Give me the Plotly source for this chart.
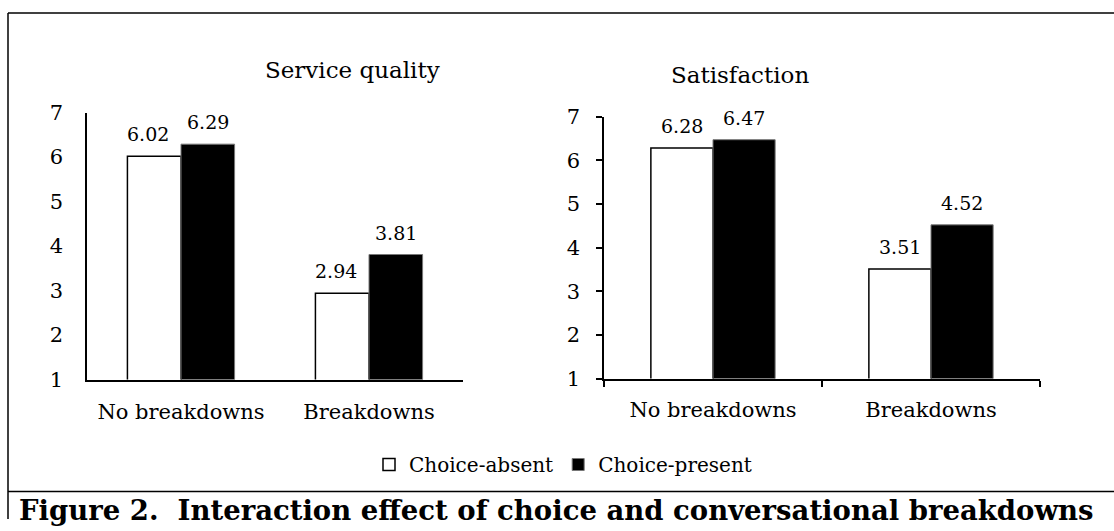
import plotly.graph_objects as go

W, H = 1114, 531
categories = ["No breakdowns", "Breakdowns"]
series_names = ["Choice-absent", "Choice-present"]
sq_absent = [6.02, 2.94]
sq_present = [6.29, 3.81]
sat_absent = [6.28, 3.51]
sat_present = [6.47, 4.52]
panel_titles = ["Service quality", "Satisfaction"]
y_ticks = [1, 2, 3, 4, 5, 6, 7]
caption = "<b>Figure 2.  Interaction effect of choice and conversational breakdowns</b>"

FONT = "DejaVu Serif"
BARGAP = 0.43


def fx(px):
    return px / W


def Y(px):
    # vertical placement helper (pixels from top -> paper fraction)
    return 1 - ((px - 10.4) / 0.955) / H


fig = go.Figure()

LEFT_X = (87, 463)
RIGHT_X = (604, 1040)


def add_panel(vals_a, vals_p, xa, ya, show, xpx, nudge_a):
    fig.add_trace(go.Bar(
        x=categories, y=vals_a, name=series_names[0], xaxis=xa, yaxis=ya,
        marker=dict(color="white", line=dict(color="black", width=1.5)),
        showlegend=show, legendgroup="a", hoverinfo="skip",
    ))
    fig.add_trace(go.Bar(
        x=categories, y=vals_p, name=series_names[1], xaxis=xa, yaxis=ya,
        marker=dict(color="black", line=dict(color="#777", width=1)),
        showlegend=show, legendgroup="p", hoverinfo="skip",
    ))
    # value labels above each bar
    cat_w = (xpx[1] - xpx[0]) / len(categories)
    bw = cat_w * (1 - BARGAP) / 2
    for vals, sgn, nud in ((vals_a, -1, nudge_a), (vals_p, 1, 0)):
        for c, v in zip(categories, vals):
            fig.add_annotation(
                x=c, y=v, xref=xa, yref=ya, text=f"{v:.2f}", showarrow=False,
                xshift=sgn * bw / 2 + nud, yanchor="bottom", yshift=9,
                font=dict(family=FONT, size=19, color="black"),
            )


add_panel(sq_absent, sq_present, "x", "y", True, LEFT_X, -6)
add_panel(sat_absent, sat_present, "x2", "y2", False, RIGHT_X, 0)

axfont = dict(family=FONT, size=21, color="black")
fig.update_layout(
    width=W, height=H,
    margin=dict(l=0, r=0, t=0, b=0),
    paper_bgcolor="white", plot_bgcolor="white",
    barmode="group", bargap=BARGAP, bargroupgap=0,
    font=dict(family=FONT, size=20, color="black"),
    xaxis=dict(domain=[fx(LEFT_X[0]), fx(LEFT_X[1])], anchor="y", showline=True, linecolor="black",
               linewidth=2, ticks="", showgrid=False, tickfont=axfont, range=[-0.5, 1.5],
               ticklabelstandoff=12),
    yaxis=dict(domain=[Y(378), Y(111)], anchor="x", range=[1, 7], tickvals=y_ticks,
               showline=True, linecolor="black", linewidth=1.5, ticks="", showgrid=False,
               zeroline=False, tickfont=axfont, ticklabelstandoff=18),
    xaxis2=dict(domain=[fx(RIGHT_X[0]), fx(RIGHT_X[1])], anchor="y2", showline=True, linecolor="black",
                linewidth=2, ticks="outside", tickson="boundaries", ticklen=6, tickwidth=1.5,
                tickcolor="black", showgrid=False, tickfont=axfont, range=[-0.5, 1.5],
                ticklabelstandoff=11),
    yaxis2=dict(domain=[Y(377), Y(115)], anchor="x2", range=[1, 7], tickvals=y_ticks,
                showline=True, linecolor="black", linewidth=1.5, ticks="outside", ticklen=6,
                tickwidth=1.5, tickcolor="black", showgrid=False, zeroline=False,
                tickfont=axfont, ticklabelstandoff=12),
    legend=dict(orientation="h", x=fx(563), xanchor="center", y=Y(463), yanchor="middle",
                font=dict(family=FONT, size=20, color="black"), itemwidth=30,
                traceorder="normal"),
)

fig.add_annotation(text=panel_titles[0], xref="paper", yref="paper", x=fx(263), y=Y(68),
                   yanchor="middle", showarrow=False, font=dict(family=FONT, size=23, color="black"))
fig.add_annotation(text=panel_titles[1], xref="paper", yref="paper", x=fx(811), y=Y(73),
                   yanchor="middle", showarrow=False, font=dict(family=FONT, size=23, color="black"))
fig.add_annotation(text=caption, xref="paper", yref="paper", x=fx(556), y=1 - 522 / H,
                   yanchor="middle", showarrow=False, font=dict(family=FONT, size=27.5, color="black"))

line = dict(color="black", width=1.5)
top = 1 - 1 / H
fig.add_shape(type="line", xref="paper", yref="paper", x0=fx(8), x1=1, y0=top, y1=top, line=line)
fig.add_shape(type="line", xref="paper", yref="paper", x0=fx(8), x1=fx(8), y0=top, y1=0, line=line)
fig.add_shape(type="line", xref="paper", yref="paper", x0=fx(8), x1=1, y0=Y(490), y1=Y(490), line=line)

fig.write_html("out.html", config={"displayModeBar": False},
               post_script="document.body.style.margin='0';")
